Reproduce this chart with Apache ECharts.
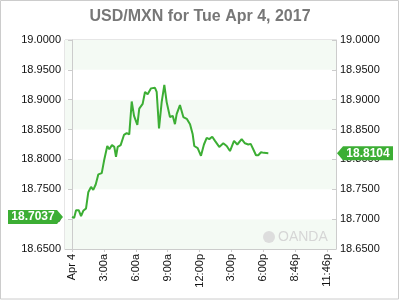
<!DOCTYPE html>
<html><head><meta charset="utf-8">
<script src="https://cdn.jsdelivr.net/npm/echarts@6/dist/echarts.min.js"></script>
<style>html,body{margin:0;padding:0;background:#fff}#c{width:400px;height:300px}</style>
</head><body><div id="c"></div>
<script>
const titleText = 'USD/MXN for Tue Apr 4, 2017';
const hours = [0.0,0.2,0.38,0.63,0.85,1.06,1.32,1.53,1.79,2.0,2.23,2.48,2.8,3.04,3.32,3.51,3.76,3.98,4.14,4.3,4.58,4.89,5.15,5.39,5.62,5.84,6.15,6.33,6.65,6.87,7.12,7.44,7.81,7.97,8.19,8.44,8.69,8.91,9.22,9.48,9.69,9.85,10.16,10.48,10.8,11.11,11.36,11.51,11.83,12.14,12.42,12.68,12.92,13.2,13.46,13.86,14.24,14.56,14.87,15.03,15.25,15.56,15.97,16.28,16.59,16.82,17.06,17.32,17.53,17.79,18.07,18.48];
const prices = [18.7037,18.702,18.715,18.715,18.705,18.714,18.718,18.745,18.754,18.749,18.758,18.775,18.777,18.8,18.8225,18.817,18.824,18.821,18.8045,18.821,18.824,18.841,18.844,18.842,18.897,18.873,18.858,18.885,18.893,18.913,18.909,18.919,18.92,18.913,18.852,18.896,18.925,18.896,18.871,18.873,18.859,18.876,18.891,18.871,18.868,18.859,18.842,18.8225,18.819,18.806,18.825,18.836,18.834,18.838,18.831,18.821,18.827,18.8225,18.814,18.812,18.831,18.825,18.834,18.827,18.825,18.826,18.817,18.807,18.807,18.812,18.811,18.8104];
const tickHours = [0,3,6,9,12,15,18,21,24];
const tickLabels = ['Apr 4','3:00a','6:00a','9:00a','12:00p','3:00p','6:00p','8:46p','11:46p'];
const yMin = 18.65, yMax = 19.0, yStep = 0.05;
const openPrice = 18.7037;
const lastPrice = 18.8104;

const green = '#3cae34';
const chart = echarts.init(document.getElementById('c'));
const font = 'Liberation Sans, Arial, sans-serif';
function yAxis(pos, withArea, tickInside) {
  return {
    type: 'value', position: pos, min: yMin, max: yMax, interval: yStep,
    axisLine: {show: true, lineStyle: {color: '#ccc'}},
    axisTick: {show: true, inside: tickInside, length: 4, lineStyle: {color: '#ccc'}},
    axisLabel: {fontFamily: font, fontSize: 11, color: '#111', margin: 4,
      formatter: v => v.toFixed(4)},
    splitLine: {show: false},
    splitArea: {show: withArea, areaStyle: {color: ['#f4faf4', '#ffffff']}}
  };
}
chart.setOption({
  animation: false,
  title: {text: titleText, left: 'center', top: 4,
    textStyle: {fontFamily: font, fontSize: 16, fontWeight: 'bold', color: '#777'}},
  grid: {left: 65, right: 64, top: 40, bottom: 51, show: true, borderColor: '#ccc', borderWidth: 1, backgroundColor: 'transparent'},
  xAxis: {
    type: 'value', min: -0.66, max: 24.85,
    axisLine: {show: true, lineStyle: {color: '#ccc'}},
    axisTick: {show: true, length: 3, customValues: tickHours, lineStyle: {color: '#ccc'}},
    axisLabel: {rotate: 90, fontFamily: font, fontSize: 11, color: '#111', margin: 5,
      customValues: tickHours,
      formatter: v => { const i = tickHours.indexOf(Math.round(v)); return i >= 0 ? tickLabels[i] : ''; }},
    splitLine: {show: false}
  },
  yAxis: [yAxis('left', true, false), yAxis('right', false, true)],
  series: [{
    type: 'line', showSymbol: false, symbol: 'none',
    lineStyle: {color: green, width: 2},
    data: hours.map((h, i) => [h, prices[i]])
  }]
});

const yOpen = chart.convertToPixel({yAxisIndex: 0}, openPrice);
const yLast = chart.convertToPixel({yAxisIndex: 0}, lastPrice);
const h = 7;
chart.setOption({
  graphic: [
    {type: 'polygon', shape: {points: [[8, yOpen - h], [57, yOpen - h], [63, yOpen], [57, yOpen + h], [8, yOpen + h]]}, style: {fill: green}, z: 100},
    {type: 'text', x: 33, y: yOpen, style: {text: openPrice.toFixed(4), fill: '#fff', font: 'bold 12px ' + font, align: 'center', verticalAlign: 'middle'}, z: 101},
    {type: 'polygon', shape: {points: [[337, yLast], [343, yLast - h], [393, yLast - h], [393, yLast + h], [343, yLast + h]]}, style: {fill: green}, z: 100},
    {type: 'text', x: 368, y: yLast, style: {text: lastPrice.toFixed(4), fill: '#fff', font: 'bold 12px ' + font, align: 'center', verticalAlign: 'middle'}, z: 101},
    {type: 'circle', shape: {cx: 269, cy: 237, r: 6}, style: {fill: '#ddd'}, z: 5},
    {type: 'text', x: 278, y: 237, style: {text: 'OANDA', fill: '#d6d6d6', font: '14px ' + font, verticalAlign: 'middle'}, z: 5},
    {type: 'rect', shape: {x: 0.5, y: 0.5, width: 398, height: 298.5}, style: {fill: 'none', stroke: '#ccc', lineWidth: 1}, z: 0}
  ]
});
</script></body></html>
